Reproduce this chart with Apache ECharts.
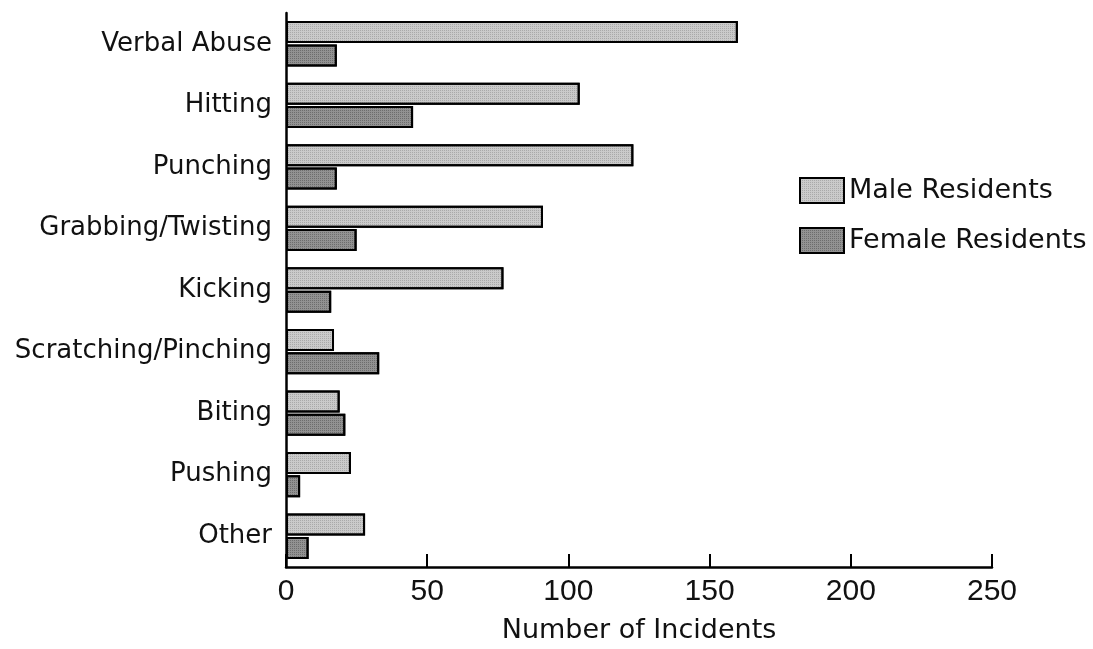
<!DOCTYPE html>
<html>
<head>
<meta charset="utf-8">
<script src="https://cdn.jsdelivr.net/npm/echarts@6/dist/echarts.min.js"></script>
<style>
html,body{margin:0;padding:0;background:#fff;}
#chart{width:1093px;height:649px;}
</style>
</head>
<body>
<div id="chart"></div>
<script>
const categories = ['Verbal Abuse','Hitting','Punching','Grabbing/Twisting','Kicking','Scratching/Pinching','Biting','Pushing','Other'];
const maleValues = [160, 104, 123, 91, 77, 17, 19, 23, 28];
const femaleValues = [18, 45, 18, 25, 16, 33, 21, 5, 8];
const xTicks = [0, 50, 100, 150, 200, 250];

const chart = echarts.init(document.getElementById('chart'), null, {renderer:'canvas'});
const dotDecal = (c) => ({symbol:'rect', symbolSize:1, dashArrayX:[1,1], dashArrayY:[1,1], rotation:0, color:c});
chart.setOption({
  animation:false,
  backgroundColor:'#fff',
  aria:{enabled:false},
  grid:{left:286, right:101, top:13, bottom:79, containLabel:false},
  legend:{
    orient:'vertical', left:794, top:172,
    icon:'rect',
    itemWidth:44, itemHeight:25, itemGap:23,
    textStyle:{fontFamily:'DejaVu Sans', fontSize:27, color:'#111', padding:[0,0,0,0]},
    data:['Male Residents','Female Residents']
  },
  xAxis:{
    type:'value', min:xTicks[0], max:xTicks[xTicks.length-1], interval:50,
    name:'Number of Incidents', nameLocation:'middle', nameGap:50,
    nameTextStyle:{fontFamily:'DejaVu Sans', fontSize:27, color:'#111'},
    axisLine:{show:true, lineStyle:{color:'#000', width:2.5}},
    axisTick:{show:true, inside:true, length:13, lineStyle:{color:'#000', width:2}},
    axisLabel:{fontFamily:'Arial', fontSize:30, color:'#111', margin:10},
    splitLine:{show:false}
  },
  yAxis:{
    type:'category', data:categories, inverse:true,
    axisLine:{show:true, lineStyle:{color:'#000', width:2.5}},
    axisTick:{show:false},
    axisLabel:{fontFamily:'DejaVu Sans', fontSize:26, color:'#111', margin:14}
  },
  series:[
    {name:'Male Residents', type:'bar', data:maleValues, barWidth:22, barGap:'6%',
     itemStyle:{color:'#cacaca', borderColor:'#000', borderWidth:2, decal:dotDecal('rgba(0,0,0,0.16)')}},
    {name:'Female Residents', type:'bar', data:femaleValues, barWidth:22,
     itemStyle:{color:'#929292', borderColor:'#000', borderWidth:2, decal:dotDecal('rgba(0,0,0,0.25)')}}
  ]
});
</script>
</body>
</html>
